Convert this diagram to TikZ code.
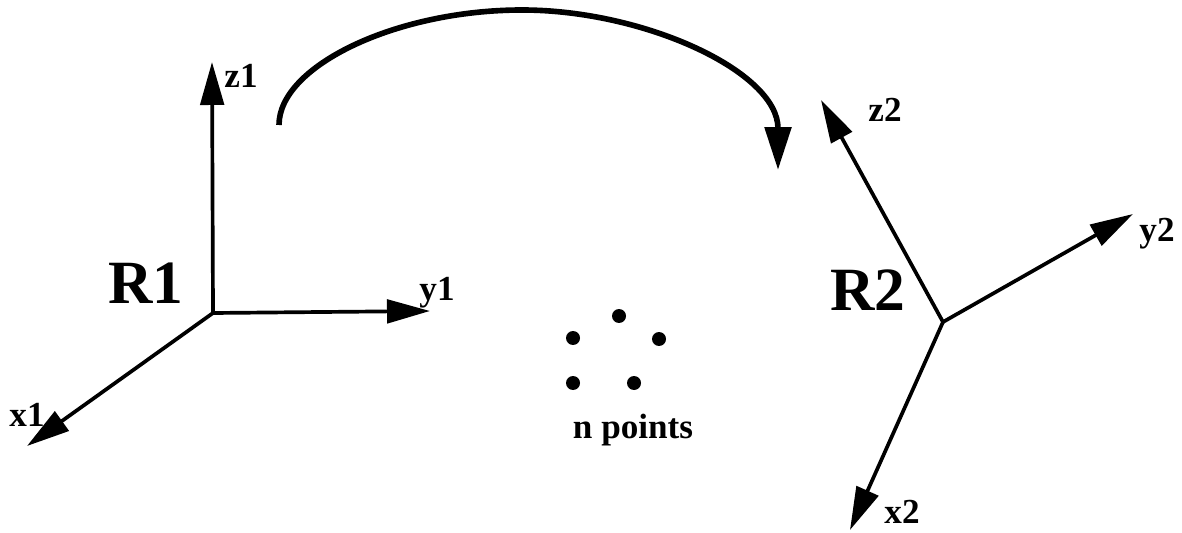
\documentclass[tikz,border=0pt]{standalone}
\usepackage{fontspec}
\setmainfont{Liberation Serif}
\usetikzlibrary{arrows.meta}
\begin{document}
\begin{tikzpicture}[x=0.02cm,y=-0.02cm,
  axis/.style={line width=2.1pt,-{Triangle[length=0.86cm,width=0.47cm]}},
  lbl/.style={font=\fontsize{20}{24}\selectfont\bfseries,inner sep=0pt},
  big/.style={font=\fontsize{35}{40}\selectfont\bfseries,inner sep=0pt},
  pt/.style={circle,fill=black,inner sep=0pt,minimum size=0.28cm}]
\useasboundingbox (0,0) rectangle (1182,533);
% frame R1
\coordinate (o1) at (213,313);
\coordinate (z1) at (212,62);
\coordinate (y1) at (430,311);
\coordinate (x1) at (27,446);
\draw[axis] (o1) -- (z1);
\draw[axis] (o1) -- (y1);
\draw[axis] (o1) -- (x1);
\node[lbl] (lz1) at (241,76) {z1};
\node[lbl] (ly1) at (437,293) {y1};
\node[lbl] (lx1) at (27,415) {x1};
\node[big] (R1) at (146,283) {R1};
% frame R2
\coordinate (o2) at (943,322);
\coordinate (z2) at (821,100);
\coordinate (y2) at (1133,214);
\coordinate (x2) at (850,530);
\draw[axis] (o2) -- (z2);
\draw[axis] (o2) -- (y2);
\draw[axis] (o2) -- (x2);
\node[lbl] (lz2) at (885,110) {z2};
\node[lbl] (ly2) at (1157,234) {y2};
\node[lbl] (lx2) at (902,512) {x2};
\node[big] (R2) at (868,290) {R2};
% curved arrow
\coordinate (a0) at (279,125);
\coordinate (am) at (522,10);
\coordinate (a1) at (778,170);
\draw[line width=3.2pt,-{Triangle[length=0.86cm,width=0.52cm]}]
  (a0) .. controls (279,66) and (396,10) .. (am)
       .. controls (645,10) and (778,72) .. (a1);
% points
\node[pt] (p1) at (619,316) {};
\node[pt] (p2) at (573,338) {};
\node[pt] (p3) at (659,339) {};
\node[pt] (p4) at (573,383) {};
\node[pt] (p5) at (634,383) {};
\node[lbl] (np) at (633,430) {n points};
\end{tikzpicture}
\end{document}
